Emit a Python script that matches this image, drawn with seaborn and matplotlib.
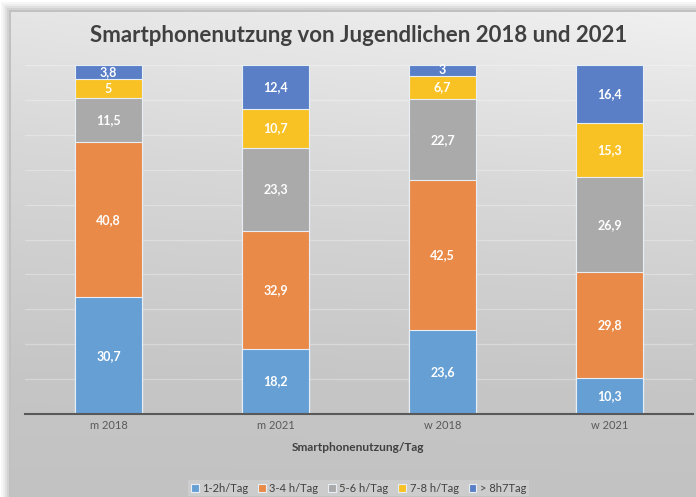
import numpy as np
import pandas as pd
import seaborn as sns
import matplotlib.pyplot as plt
from matplotlib.patches import Rectangle

# Data
groups = ["m 2018", "m 2021", "w 2018", "w 2021"]
series = ["1-2h/Tag", "3-4 h/Tag", "5-6 h/Tag", "7-8 h/Tag", "> 8h7Tag"]
h_1_2 = [30.7, 18.2, 23.6, 10.3]
h_3_4 = [40.8, 32.9, 42.5, 29.8]
h_5_6 = [11.5, 23.3, 22.7, 26.9]
h_7_8 = [5.0, 10.7, 6.7, 15.3]
h_8_plus = [3.8, 12.4, 3.0, 16.4]
colors = ["#669fd4", "#ea8a48", "#aaaaaa", "#f9c224", "#5a7fc7"]

values = pd.DataFrame(
    {s: v for s, v in zip(series, [h_1_2, h_3_4, h_5_6, h_7_8, h_8_plus])},
    index=groups,
)
# 100 % stacked: each bar normalised to its own sum
share = values.div(values.sum(axis=1), axis=0) * 100
cum = share.cumsum(axis=1)

sns.set_theme(style="white")
plt.rcParams["font.family"] = ["Lato", "DejaVu Sans"]

fig = plt.figure(figsize=(6.96, 4.97), dpi=100)
fig.patch.set_facecolor("white")

# soft shadow around the chart panel
px, py = 11 / 696, 12 / 497
for i, a in enumerate([0.03, 0.04, 0.05, 0.06, 0.08]):
    off = (5 - i) * 2
    fig.patches.append(Rectangle((px - off / 696, 0), 1, 1 - py + off / 497,
                                 transform=fig.transFigure, facecolor="black",
                                 alpha=a, edgecolor="none", zorder=-10))

# gradient background panel (lighter top right, darker bottom)
bg = fig.add_axes([px, 0, 1 - px, 1 - py], zorder=-5)
yy, xx = np.mgrid[0:1:200j, 0:1:200j]
grad = np.clip(yy * 0.85 + (1 - xx) * 0.15 * (1 - yy), 0, 1)
cmap = sns.blend_palette(["#f0f0f0", "#d8d8d8", "#c6c6c6", "#bfbfbf"], as_cmap=True)
bg.imshow(grad, aspect="auto", cmap=cmap, extent=[0, 1, 0, 1], vmin=0, vmax=1, origin="upper")
bg.set_axis_off()

ax = fig.add_axes([25 / 696, 83 / 497, 668 / 696, 349 / 497])
ax.set_facecolor("none")

for y in range(10, 101, 10):
    ax.axhline(y, color="white", lw=0.9, alpha=0.3, zorder=0)

# draw cumulative layers from top to bottom so they appear stacked
for s, c in reversed(list(zip(series, colors))):
    d = pd.DataFrame({"group": groups, "top": cum[s].values})
    sns.barplot(data=d, x="group", y="top", color=c, width=0.4, ax=ax,
                edgecolor="#e8eef5", linewidth=0.8, saturation=1, label=s, zorder=2)

for s in series:
    for i, g in enumerate(groups):
        mid = cum.loc[g, s] - share.loc[g, s] / 2
        txt = f"{values.loc[g, s]:g}".replace(".", ",")
        ax.text(i, mid, txt, ha="center", va="center", color="white",
                fontsize=9, fontweight="bold", zorder=5)

handles, labels = ax.get_legend_handles_labels()
if ax.get_legend() is not None:
    ax.get_legend().remove()

ax.set_xlim(-0.5, 3.5)
ax.set_ylim(0, 100)
ax.set_yticks([])
ax.set_xlabel("")
ax.set_ylabel("")
sns.despine(ax=ax, left=True, right=True, top=True)
ax.spines["bottom"].set_color("#595959")
ax.spines["bottom"].set_linewidth(1.5)
ax.tick_params(axis="x", length=0, pad=4, labelsize=8, labelcolor="#595959")

fig.text(0.515, 0.928, "Smartphonenutzung von Jugendlichen 2018 und 2021",
         ha="center", va="center", fontsize=16, fontweight="bold", color="#404040")
fig.text(0.515, 0.0986, "Smartphonenutzung/Tag", ha="center", va="center",
         fontsize=8.6, fontweight="bold", color="#404040")

order = [labels.index(s) for s in series]
leg = fig.legend([handles[i] for i in order], series, loc="center",
                 bbox_to_anchor=(0.515, 0.018), ncol=5, frameon=True, fontsize=8,
                 handlelength=0.7, handleheight=0.7, handletextpad=0.3,
                 columnspacing=0.9, borderpad=0.25, fancybox=False)
leg.get_frame().set_facecolor("#cfcfcf")
leg.get_frame().set_edgecolor("none")
for t in leg.get_texts():
    t.set_color("#404040")

fig.savefig("out.png", dpi=100)
